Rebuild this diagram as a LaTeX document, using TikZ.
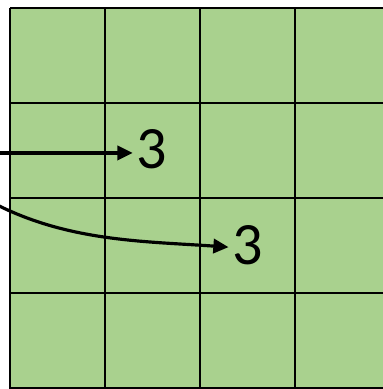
\documentclass[tikz,border=0pt]{standalone}
\usepackage{fontspec}
\setmainfont{Carlito}
\usepackage{tikz}
\usetikzlibrary{arrows.meta}

\definecolor{cellgreen}{HTML}{A9D18E}

\begin{document}
\begin{tikzpicture}[
        x=2cm, y=2cm,
        >={Triangle[length=0.32cm, width=0.3cm]},
        cell/.style={fill=cellgreen},
        gridline/.style={draw=black, line width=1.5pt},
        link/.style={->, line width=1.9pt},
        value/.style={font=\fontsize{36}{40}\selectfont, inner sep=2pt}
    ]
        % picture frame
        \clip (-0.105,-0.011) rectangle (3.926,4.084);

        % grid of cells
        \fill[cell] (0,-0.5) rectangle (4.5,4);
        \draw[gridline, step=2cm] (0,-0.5) grid (4.5,4);

        % values
        \node[value] (v1) at (1.49,2.51) {3};
        \node[value] (v2) at (2.5,1.5) {3};

        % incoming arrows
        \coordinate (s1) at (-0.2,2.474);
        \coordinate (s2) at (-0.2,1.96);
        \draw[link] (s1) -- (s1 -| v1.west);
        \draw[link] (s2) to[out=-28, in=176, looseness=0.9] ([yshift=-1pt]v2.west);
    \end{tikzpicture}
\end{document}
